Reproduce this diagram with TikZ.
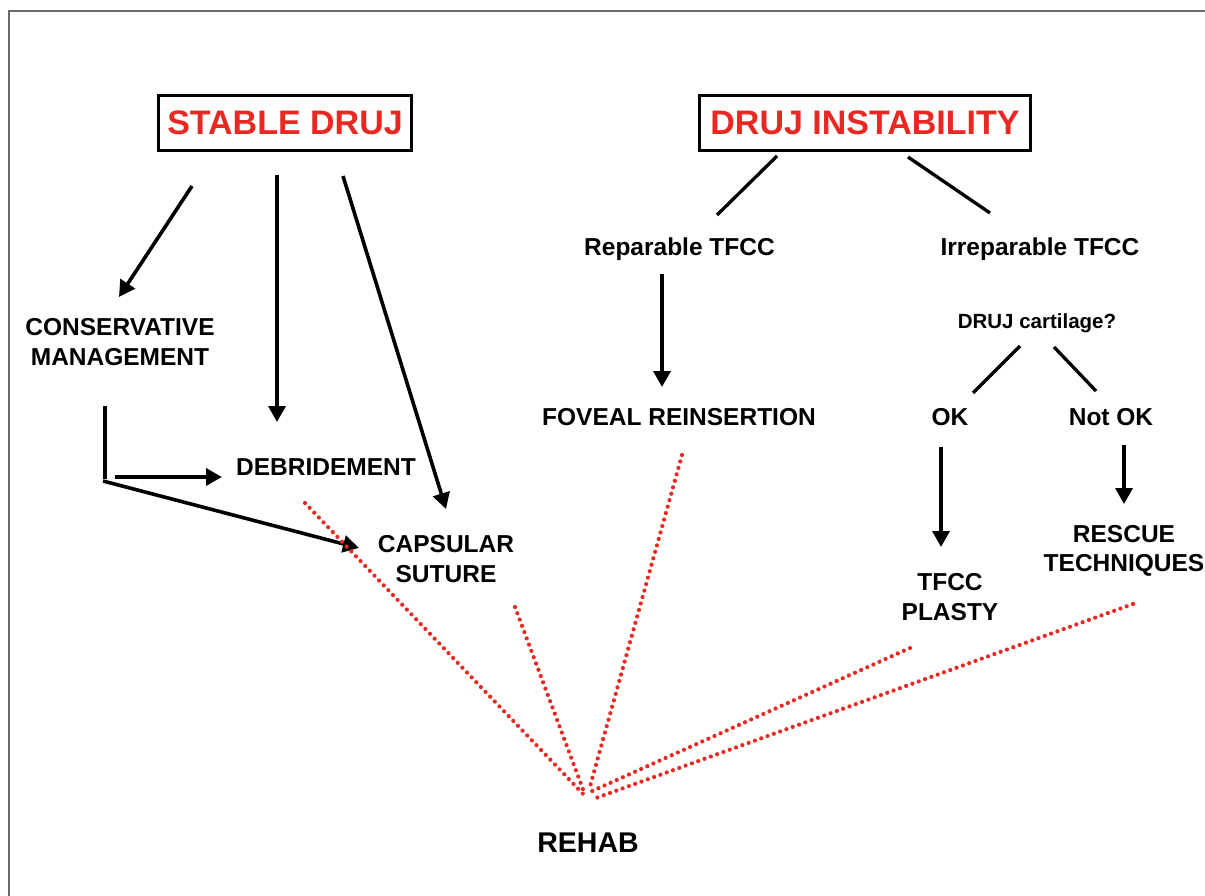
\documentclass[tikz,border=0pt]{standalone}
\usepackage{fontspec}
\setmainfont{Liberation Sans}
\usetikzlibrary{arrows.meta}
\definecolor{dred}{RGB}{232,40,34}
\definecolor{framegray}{RGB}{105,105,105}
\begin{document}
\begin{tikzpicture}[x=1pt,y=-1pt,
  lbl/.style={inner sep=0pt, font=\bfseries\fontsize{24.5}{29.5}\selectfont, align=center},
  smalllbl/.style={inner sep=0pt, font=\bfseries\fontsize{20.5}{24}\selectfont},
  biglbl/.style={inner sep=0pt, font=\bfseries\fontsize{28.5}{32}\selectfont},
  headbox/.style={draw=black, line width=3.3pt, inner sep=0pt, text=dred,
    font=\bfseries\fontsize{34}{38}\selectfont},
  arr/.style={line width=3.6pt, -{Triangle[length=16pt,width=17pt]}},
  plain/.style={line width=3.3pt},
  dots/.style={draw=dred, line width=4.2pt, line cap=round, dash pattern=on 0pt off 6.7pt}
]
\useasboundingbox (0,0) rectangle (1205,896);
\fill[white] (0,0) rectangle (1205,896);
% frame
\draw[framegray, line width=1.5pt] (9,896) -- (9,11) -- (1205,11);

% header boxes
\node[headbox, minimum width=253pt, minimum height=55pt] (stable) at (285,123) {STABLE DRUJ};
\node[headbox, minimum width=331pt, minimum height=55pt] (instab) at (865,123) {DRUJ INSTABILITY};

% left labels
\node[lbl] (cons) at (120,342) {CONSERVATIVE\\MANAGEMENT};
\node[lbl, anchor=base] (debr) at (326,475) {DEBRIDEMENT};
\node[lbl] (caps) at (446,559) {CAPSULAR\\SUTURE};

% right labels
\node[lbl, anchor=base] (repar) at (679.5,255) {Reparable TFCC};
\node[lbl, anchor=base] (irrep) at (1040,255) {Irreparable TFCC};
\node[lbl, anchor=base] (fove) at (679,425) {FOVEAL REINSERTION};
\node[smalllbl, anchor=base] (cart) at (1037,328) {DRUJ cartilage?};
\node[lbl, anchor=base] (ok) at (950,425) {OK};
\node[lbl, anchor=base] (notok) at (1111,425) {Not OK};
\node[lbl] (plasty) at (950,597) {TFCC\\PLASTY};
\node[lbl] (rescue) at (1124,551) {RESCUE\\TECHNIQUES};
\node[biglbl, anchor=base] (rehab) at (588,852) {REHAB};

% connector end points
\coordinate (s1) at (192,186);  \coordinate (e1) at (119,297);
\coordinate (s2) at (277,175);  \coordinate (e2) at (277,422);
\coordinate (s3) at (343,176);  \coordinate (e3) at (446,509);
\coordinate (vtop) at (105,406); \coordinate (vbot) at (105,479);
\coordinate (hs) at (115,477);  \coordinate (he) at (222,477);
\coordinate (ds) at (103,481);  \coordinate (de) at (359,548);
\coordinate (i1s) at (777,156); \coordinate (i1e) at (717,215);
\coordinate (i2s) at (908,157); \coordinate (i2e) at (990,213);
\coordinate (rs) at (662,274);  \coordinate (re) at (662,387);
\coordinate (c1s) at (1020,346); \coordinate (c1e) at (973,393);
\coordinate (c2s) at (1054,347); \coordinate (c2e) at (1096,391);
\coordinate (oks) at (941,447); \coordinate (oke) at (941,547);
\coordinate (nos) at (1124,445); \coordinate (noe) at (1124,504);

% black connectors
\draw[arr] (s1) -- (e1);
\draw[arr] (s2) -- (e2);
\draw[arr] (s3) -- (e3);
\draw[plain] (vtop) -- (vbot);
\draw[arr] (hs) -- (he);
\draw[arr] (ds) -- (de);
\draw[plain] (i1s) -- (i1e);
\draw[plain] (i2s) -- (i2e);
\draw[arr] (rs) -- (re);
\draw[plain] (c1s) -- (c1e);
\draw[plain] (c2s) -- (c2e);
\draw[arr] (oks) -- (oke);
\draw[arr] (nos) -- (noe);

% red dotted lines to rehab
\coordinate (r1s) at (305,503);  \coordinate (r1e) at (586,797);
\coordinate (r2s) at (515,607);  \coordinate (r2e) at (584,792);
\coordinate (r3s) at (682,455);  \coordinate (r3e) at (589,790);
\coordinate (r4s) at (910,648);  \coordinate (r4e) at (590,792);
\coordinate (r5s) at (1133,604); \coordinate (r5e) at (596,798);
\draw[dots] (r1s) -- (r1e);
\draw[dots] (r2s) -- (r2e);
\draw[dots] (r3s) -- (r3e);
\draw[dots] (r4s) -- (r4e);
\draw[dots] (r5s) -- (r5e);
\end{tikzpicture}
\end{document}
